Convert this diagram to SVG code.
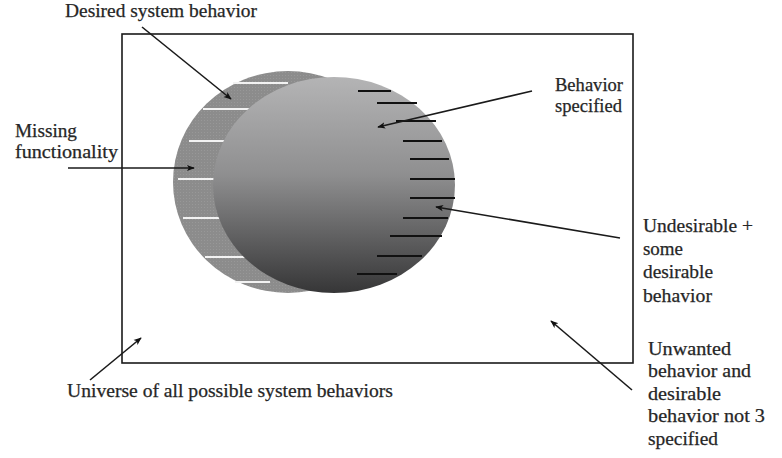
<svg xmlns="http://www.w3.org/2000/svg" width="782" height="458" viewBox="0 0 782 458">
<style>
text{font-family:"Liberation Serif","Times New Roman",serif;font-size:18.5px;fill:#262626;stroke:#262626;stroke-width:0.25}
.conn line{stroke:#1a1a1a;stroke-width:1.6;marker-end:url(#ah)}
.wl{stroke:#f2f2f2;stroke-width:1.8}
.bl{stroke:#111;stroke-width:1.8}
</style>
<defs>
<marker id="ah" viewBox="0 0 10 10" refX="9" refY="5" markerWidth="8" markerHeight="8" markerUnits="userSpaceOnUse" orient="auto">
<path d="M0,1 L10,5 L0,9 L2.5,5 z" fill="#111"/>
</marker>
<linearGradient id="g" x1="0" y1="0" x2="0" y2="1">
<stop offset="0" stop-color="#b4b4b5"/>
<stop offset="0.45" stop-color="#8f8f90"/>
<stop offset="1" stop-color="#363637"/>
</linearGradient>
<pattern id="dots" width="3" height="3" patternUnits="userSpaceOnUse">
<rect width="3" height="3" fill="#8c8c8c"/>
<rect width="1" height="1" fill="#989898"/>
</pattern>
</defs>
<rect id="universe" x="122" y="34" width="511" height="329" fill="none" stroke="#1a1a1a" stroke-width="1.6"/>
<g id="desired">
<ellipse cx="288" cy="182" rx="115" ry="111" fill="url(#dots)"/>
<line class="wl" x1="233" y1="83" x2="288" y2="83"/>
<line class="wl" x1="203" y1="109" x2="250" y2="109"/>
<line class="wl" x1="189" y1="141" x2="226" y2="141"/>
<line class="wl" x1="178" y1="179" x2="216" y2="179"/>
<line class="wl" x1="183" y1="218" x2="221" y2="218"/>
<line class="wl" x1="205" y1="257" x2="245" y2="257"/>
<line class="wl" x1="235" y1="282" x2="270" y2="282"/>
</g>
<g id="specified">
<ellipse cx="334" cy="185" rx="121" ry="108" fill="url(#g)"/>
<line class="bl" x1="358" y1="91" x2="391" y2="91"/>
<line class="bl" x1="377" y1="103" x2="417" y2="103"/>
<line class="bl" x1="396" y1="121" x2="436" y2="121"/>
<line class="bl" x1="403" y1="141" x2="442" y2="141"/>
<line class="bl" x1="410" y1="159" x2="449" y2="159"/>
<line class="bl" x1="410" y1="179" x2="455" y2="179"/>
<line class="bl" x1="410" y1="198" x2="455" y2="198"/>
<line class="bl" x1="403" y1="218" x2="448" y2="218"/>
<line class="bl" x1="390" y1="236" x2="442" y2="236"/>
<line class="bl" x1="377" y1="256" x2="422" y2="256"/>
<line class="bl" x1="357" y1="274" x2="397" y2="274"/>
</g>
<g id="labels">
<text x="65" y="17" textLength="192" lengthAdjust="spacingAndGlyphs">Desired system behavior</text>
<text x="15" y="137" textLength="62" lengthAdjust="spacingAndGlyphs">Missing</text>
<text x="15" y="158" textLength="103" lengthAdjust="spacingAndGlyphs">functionality</text>
<text x="555" y="91" textLength="68" lengthAdjust="spacingAndGlyphs">Behavior</text>
<text x="555" y="112" textLength="67" lengthAdjust="spacingAndGlyphs">specified</text>
<text x="643" y="232" textLength="110" lengthAdjust="spacingAndGlyphs">Undesirable +</text>
<text x="643" y="255" textLength="40" lengthAdjust="spacingAndGlyphs">some</text>
<text x="643" y="278" textLength="70" lengthAdjust="spacingAndGlyphs">desirable</text>
<text x="643" y="302" textLength="69" lengthAdjust="spacingAndGlyphs">behavior</text>
<text x="648" y="355" textLength="83" lengthAdjust="spacingAndGlyphs">Unwanted</text>
<text x="648" y="377" textLength="103" lengthAdjust="spacingAndGlyphs">behavior and</text>
<text x="648" y="400" textLength="73" lengthAdjust="spacingAndGlyphs">desirable</text>
<text x="648" y="422" textLength="117" lengthAdjust="spacingAndGlyphs">behavior not 3</text>
<text x="648" y="445" textLength="70" lengthAdjust="spacingAndGlyphs">specified</text>
<text x="67" y="397" textLength="326" lengthAdjust="spacingAndGlyphs">Universe of all possible system behaviors</text>
</g>
<g id="connectors" class="conn">
<line x1="142" y1="27" x2="231" y2="99"/>
<line x1="68" y1="168" x2="194" y2="168"/>
<line x1="532" y1="91" x2="378" y2="127"/>
<line x1="620" y1="238" x2="436" y2="207"/>
<line x1="632" y1="390" x2="551" y2="321"/>
<line x1="90" y1="380" x2="141" y2="338"/>
</g>
</svg>
